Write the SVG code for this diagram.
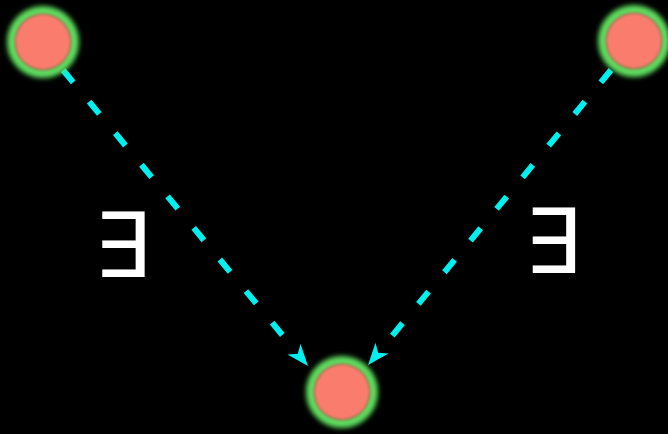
<svg xmlns="http://www.w3.org/2000/svg" width="668" height="434" viewBox="0 0 668 434">
<style>
.edge{fill:none;stroke:#00f0f0;stroke-width:6;stroke-dasharray:16 25}
.ring{fill:none;stroke:#5fe05f;stroke-width:10}
.core{fill:#fa7b6c}
.lbl{font-family:"DejaVu Sans",sans-serif;font-size:90px;fill:#ffffff;text-anchor:middle}
</style>
<defs>
<filter id="glow" x="-50%" y="-50%" width="200%" height="200%"><feGaussianBlur stdDeviation="2.5"/></filter>
<filter id="soft" x="-50%" y="-50%" width="200%" height="200%"><feGaussianBlur stdDeviation="1.5"/></filter>
<marker id="ah" markerUnits="userSpaceOnUse" viewBox="-8 -10 26 20" markerWidth="26" markerHeight="20" refX="0" refY="0" orient="auto">
<path d="M16,0 L-6,-8.5 L0,0 L-6,8.5 Z" fill="#00f0f0"/>
</marker>
</defs>
<rect width="668" height="434" fill="#000"/>
<g id="edges">
<path class="edge" d="M63,70 L297.8,353.7" marker-end="url(#ah)"/>
<path class="edge" d="M611,70 L378.2,352.7" marker-end="url(#ah)"/>
</g>
<g id="label1"><text class="lbl" x="122" y="277">∃</text></g>
<g id="label2"><text class="lbl" x="552.5" y="273">∃</text></g>
<g id="n1">
<circle class="ring" cx="43" cy="42" r="31" filter="url(#glow)"/>
<circle class="core" cx="43" cy="42" r="28" filter="url(#soft)"/>
</g>
<g id="n2">
<circle class="ring" cx="634" cy="41" r="31" filter="url(#glow)"/>
<circle class="core" cx="634" cy="41" r="28" filter="url(#soft)"/>
</g>
<g id="n3">
<circle class="ring" cx="342" cy="392" r="31" filter="url(#glow)"/>
<circle class="core" cx="342" cy="392" r="28" filter="url(#soft)"/>
</g>
</svg>
